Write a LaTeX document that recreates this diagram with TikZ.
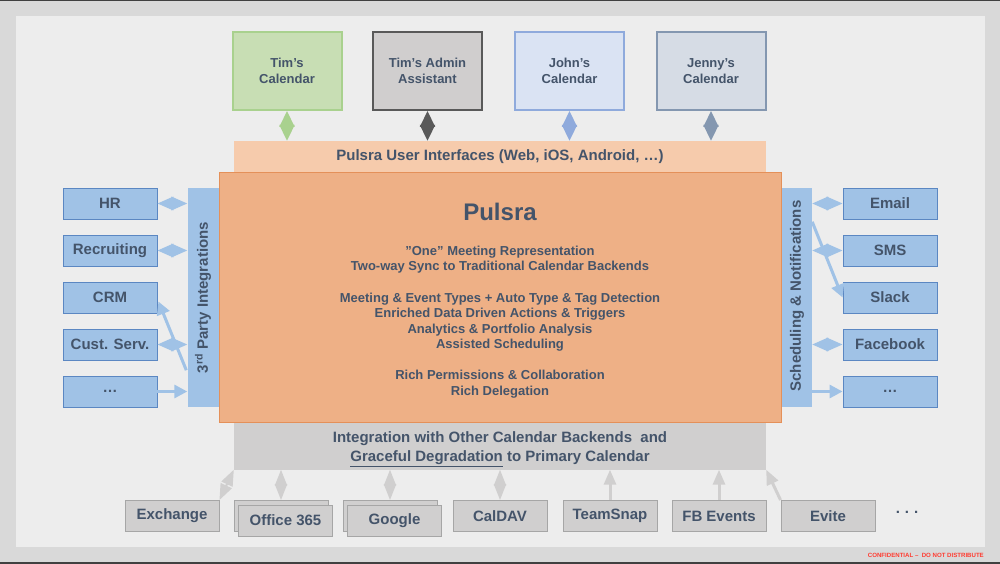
\documentclass[tikz,border=0pt]{standalone}
\usepackage{fontspec}
\setmainfont{Liberation Sans}
\usetikzlibrary{arrows.meta,calc}
\definecolor{txt}{HTML}{44546A}
\definecolor{outerbg}{HTML}{D9D9D9}
\definecolor{panel}{HTML}{EDEDED}
\definecolor{grnF}{HTML}{C8DEB4}
\definecolor{grnD}{HTML}{A9D18E}
\definecolor{admF}{HTML}{D0CECE}
\definecolor{admD}{HTML}{595959}
\definecolor{jonF}{HTML}{DAE3F3}
\definecolor{jonD}{HTML}{8FAADC}
\definecolor{jenF}{HTML}{D6DCE5}
\definecolor{jenD}{HTML}{8497B0}
\definecolor{uiF}{HTML}{F6CBAC}
\definecolor{mainF}{HTML}{EEB086}
\definecolor{mainD}{HTML}{E49059}
\definecolor{bluF}{HTML}{A0C2E6}
\definecolor{bluD}{HTML}{5B87C2}
\definecolor{gryF}{HTML}{D0CFCF}
\definecolor{gryD}{HTML}{A6A6A6}
\definecolor{conf}{HTML}{FF3B30}
\tikzset{
  every node/.style={text=txt, font=\bfseries},
  topbox/.style={draw, line width=2pt, rectangle, minimum width=109pt, minimum height=78pt,
    inner sep=0pt, align=center, font=\bfseries\fontsize{13}{16}\selectfont},
  bluebox/.style={draw=bluD, fill=bluF, line width=0.9pt, rectangle, minimum width=94pt,
    minimum height=31pt, inner sep=0pt, font=\bfseries\fontsize{15}{18}\selectfont},
  graybox/.style={draw=gryD, fill=gryF, line width=0.9pt, rectangle, minimum width=94pt,
    minimum height=31pt, inner sep=0pt, font=\bfseries\fontsize{15}{18}\selectfont},
  bar/.style={rectangle, inner sep=0pt},
  diaV/.style={line width=2pt, {Triangle[length=16pt,width=15pt]}-{Triangle[length=16pt,width=15pt]}},
  diaH/.style={line width=2pt, {Triangle[length=16pt,width=13.5pt]}-{Triangle[length=16pt,width=13.5pt]}},
  diaB/.style={line width=2pt, {Triangle[length=16pt,width=12pt]}-{Triangle[length=16pt,width=12pt]}},
  arrH/.style={line width=3pt, -{Triangle[length=13pt,width=13pt]}},
  arrB/.style={line width=3pt, -{Triangle[length=15pt,width=12pt]}},
}
\begin{document}
\begin{tikzpicture}[x=1pt,y=-1pt]
\useasboundingbox (0,0) rectangle (1000,564);
\fill[outerbg] (0,0) rectangle (1000,564);
\fill[black!75] (0,0) rectangle (1000,1.5);
\fill[black!75] (0,562) rectangle (1000,564);
\fill[panel] (16,16) rectangle (985,547);

% top boxes
\node[topbox, draw=grnD, fill=grnF] (tim) at (287,71) {Tim’s\\Calendar};
\node[topbox, draw=admD, fill=admF] (adm) at (427.5,71) {Tim’s Admin\\Assistant};
\node[topbox, draw=jonD, fill=jonF] (john) at (569.5,71) {John’s\\Calendar};
\node[topbox, draw=jenD, fill=jenF] (jenny) at (711,71) {Jenny’s\\Calendar};

% UI bar
\node[bar, fill=uiF, minimum width=532pt, minimum height=31pt, font=\bfseries\fontsize{15}{18}\selectfont]
  (ui) at (500,156.5) {Pulsra User Interfaces (Web, iOS, Android, …)};

% main box
\node[rectangle, draw=mainD, fill=mainF, line width=0.8pt, minimum width=562pt, minimum height=250pt, inner sep=0pt]
  (main) at (500,297) {};
\node[font=\bfseries\fontsize{24}{28}\selectfont] (title) at (500,212) {Pulsra};
\node[align=center, font=\bfseries\fontsize{13}{15.5}\selectfont] (feat) at (500,322)
  {"One" Meeting Representation\\
   Two-way Sync to Traditional Calendar Backends\\[16pt]
   Meeting \& Event Types + Auto Type \& Tag Detection\\
   Enriched Data Driven Actions \& Triggers\\
   Analytics \& Portfolio Analysis\\
   Assisted Scheduling\\[15.5pt]
   Rich Permissions \& Collaboration\\
   Rich Delegation};

% side bars
\node[bar, fill=bluF, minimum width=31pt, minimum height=219pt] (tpi) at (203,297.5) {};
\node[rotate=90, font=\bfseries\fontsize{15}{18}\selectfont] (tpiT) at (203,297.5) {3\textsuperscript{rd} Party Integrations};
\node[bar, fill=bluF, minimum width=30pt, minimum height=219pt] (snb) at (797,297.5) {};
\node[rotate=90, font=\bfseries\fontsize{15}{18}\selectfont] (snbT) at (797,296) {Scheduling \& Notifications};

% left boxes
\node[bluebox] (hr) at (110,203.5) {HR};
\node[bluebox] (rec) at (110,250.5) {Recruiting};
\node[bluebox] (crm) at (110,297.5) {CRM};
\node[bluebox] (cust) at (110,344.5) {Cust. Serv.};
\node[bluebox] (lmore) at (110,391.5) {…};

% right boxes
\node[bluebox] (email) at (890,203.5) {Email};
\node[bluebox] (sms) at (890,250.5) {SMS};
\node[bluebox] (slack) at (890,297.5) {Slack};
\node[bluebox] (fb) at (890,344.5) {Facebook};
\node[bluebox] (rmore) at (890,391.5) {…};

% integration bar
\node[bar, fill=gryF, minimum width=532pt, minimum height=47pt] (integ) at (500,446) {};
\node[align=center, font=\bfseries\fontsize{15}{19}\selectfont] (integT) at (500,449)
  {Integration with Other Calendar Backends\ \ and\\ \underline{Graceful Degradation} to Primary Calendar};

% bottom boxes
\node[graybox] (exch) at (172,516) {Exchange};
\node[graybox] (o365b) at (281,516) {};
\node[graybox] (o365) at (285.5,520.5) {Office 365};
\node[graybox] (googb) at (390,516) {};
\node[graybox] (goog) at (394.5,520.5) {Google};
\node[graybox] (caldav) at (500,516) {CalDAV};
\node[graybox] (team) at (610,516) {TeamSnap};
\node[graybox] (fbev) at (719,516) {FB Events};
\node[graybox] (evite) at (828,516) {Evite};
\node[font=\bfseries\fontsize{15}{18}\selectfont] (bdots) at (907,512) {.\,\,.\,\,.};

% top connectors
\draw[diaV, color=grnD] (tim.south) -- (tim.south |- ui.north);
\draw[diaV, color=admD] (adm.south) -- (adm.south |- ui.north);
\draw[diaV, color=jonD] (john.south) -- (john.south |- ui.north);
\draw[diaV, color=jenD] (jenny.south) -- (jenny.south |- ui.north);

% left connectors
\draw[diaH, color=bluF] (hr.east) -- (hr.east -| tpi.west);
\draw[diaH, color=bluF] (rec.east) -- (rec.east -| tpi.west);
\draw[diaH, color=bluF] (cust.east) -- (cust.east -| tpi.west);
\draw[arrH, color=bluF] (lmore.east) -- (lmore.east -| tpi.west);
\coordinate (crmS) at ($(tpi.south west)+(-1,-37)$);
\draw[arrH, color=bluF] (crmS) -- ($(crm.east)+(1,4)$);

% right connectors
\draw[diaH, color=bluF] (email.west) -- (email.west -| snb.east);
\draw[diaH, color=bluF] (sms.west) -- (sms.west -| snb.east);
\draw[diaH, color=bluF] (fb.west) -- (fb.west -| snb.east);
\draw[arrH, color=bluF] (rmore.west -| snb.east) -- (rmore.west);
\coordinate (slS) at ($(snb.north east)+(0,34)$);
\draw[arrH, color=bluF] (slS) -- (slack.west);

% bottom connectors
\draw[diaB, color=gryF] (exch.north east) -- (integ.south west);
\draw[diaB, color=gryF] (o365b.north) -- (o365b.north |- integ.south);
\draw[diaB, color=gryF] (googb.north) -- (googb.north |- integ.south);
\draw[diaB, color=gryF] (caldav.north) -- (caldav.north |- integ.south);
\draw[arrB, color=gryF] (team.north) -- (team.north |- integ.south);
\draw[arrB, color=gryF] (fbev.north) -- (fbev.north |- integ.south);
\draw[arrB, color=gryF] (evite.north west) -- (integ.south east);

% confidential
\node[anchor=east, text=conf, font=\bfseries\fontsize{6.1}{7}\selectfont, inner sep=0pt] (confd) at (984,555)
  {CONFIDENTIAL –\ \ DO NOT DISTRIBUTE};
\end{tikzpicture}
\end{document}
